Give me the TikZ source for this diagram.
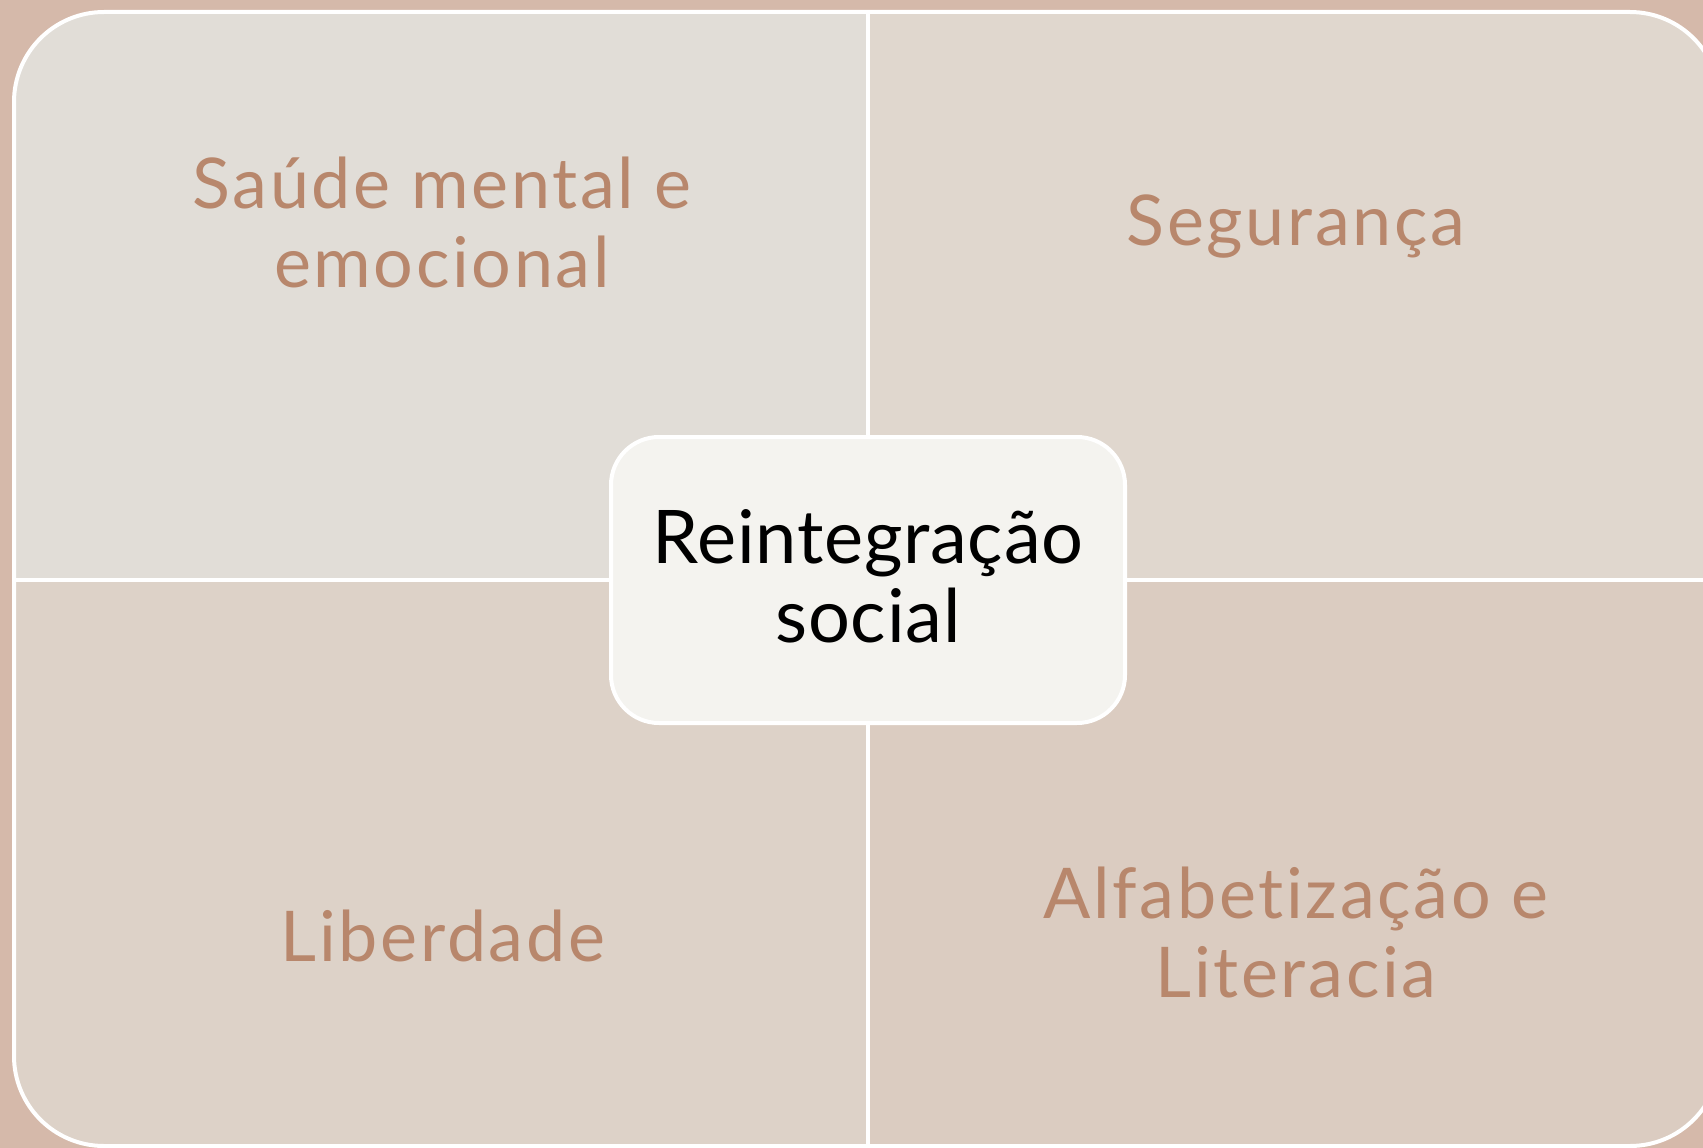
\documentclass[tikz,border=0pt]{standalone}
\usepackage{fontspec}
\setmainfont{Lato}[Ligatures=NoCommon]
\newfontfamily\lblfont{Lato}[Ligatures=NoCommon, LetterSpace=3.8]
\newfontfamily\hubfont{Lato}[Ligatures=NoCommon, LetterSpace=1]
\definecolor{bgc}{HTML}{D5B9AA}
\definecolor{qtl}{HTML}{E1DDD7}
\definecolor{qtr}{HTML}{E0D7CE}
\definecolor{qbl}{HTML}{DDD2C8}
\definecolor{qbr}{HTML}{DBCCC1}
\definecolor{cbox}{HTML}{F4F3EF}
\definecolor{lbl}{HTML}{B8876C}
\tikzset{
  qlabel/.style={text=lbl, align=center, anchor=base, inner sep=0pt,
    font=\lblfont\fontsize{70}{79}\selectfont},
  hub/.style={draw=white, line width=4pt, fill=cbox, rounded corners=48pt,
    minimum width=514pt, minimum height=286pt, align=center, inner sep=0pt,
    text depth=8pt, font=\hubfont\fontsize{74}{79}\selectfont, text=black},
  divider/.style={draw=white, line width=4pt}
}
\begin{document}
\begin{tikzpicture}[x=1pt,y=-1pt]
\fill[bgc] (0,0) rectangle (1703,1148);
\useasboundingbox (0,0) rectangle (1703,1148);
\begin{scope}
  \clip[rounded corners=90pt] (14,12) rectangle (1720,1146);
  \fill[qtl] (0,0) rectangle (868,580);
  \fill[qtr] (868,0) rectangle (1760,580);
  \fill[qbl] (0,580) rectangle (868,1160);
  \fill[qbr] (868,580) rectangle (1760,1160);
\end{scope}
\draw[divider, rounded corners=90pt] (14,12) rectangle (1720,1146);
\coordinate (vt) at (868,12);
\coordinate (vb) at (868,1146);
\coordinate (hl) at (14,580);
\coordinate (hr) at (1720,580);
\draw[divider] (vt) -- (vb);
\draw[divider] (hl) -- (hr);
\node[hub] (hubnode) at (868,580) {Reintegração\\social};
\node[qlabel] (tl) at (442,287) {Saúde mental e\\emocional};
\node[qlabel] (tr) at (1296,245) {Segurança};
\node[qlabel] (bl) at (443,961) {Liberdade};
\node[qlabel] (br) at (1296,997) {Alfabetização e\\Literacia};
\end{tikzpicture}
\end{document}
